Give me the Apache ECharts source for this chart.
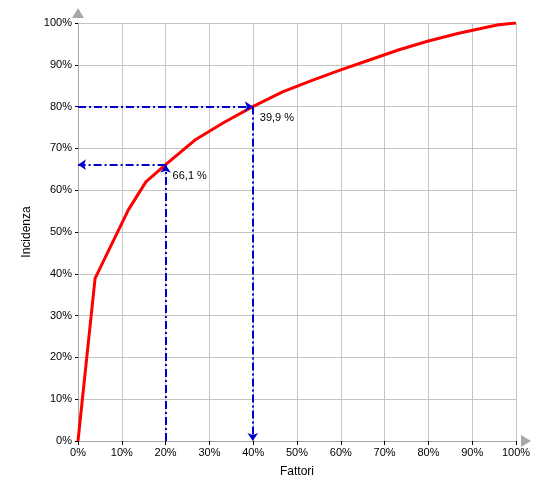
<!DOCTYPE html>
<html>
<head>
<meta charset="utf-8">
<script src="https://cdn.jsdelivr.net/npm/echarts@6/dist/echarts.min.js"></script>
<style>html,body{margin:0;padding:0;background:#fff}#c{width:550px;height:500px}</style>
</head>
<body>
<div id="c"></div>
<script>
// Fattori (%) vs Incidenza (%)
var factorsPct = [0, 3.9, 11.5, 15.5, 20, 26.7, 33.3, 39.9, 46.7, 53.3, 60, 66.7, 73.3, 80, 86.7, 93.3, 96, 100];
var incidencePct = [0, 38.9, 55.3, 62, 66.1, 72, 76.2, 80, 83.5, 86.2, 88.8, 91.2, 93.6, 95.7, 97.5, 99.0, 99.6, 100];
var xTicks = [0, 10, 20, 30, 40, 50, 60, 70, 80, 90, 100];
var yTicks = [0, 10, 20, 30, 40, 50, 60, 70, 80, 90, 100];
// Reference lines: [factor, incidence, label]
var refA = [20, 66.1, '66,1 %'];   // from x axis up, then left to y axis
var refB = [39.9, 80, '39,9 %'];   // from y axis right, then down to x axis

var blue = '#0000cc';
var dashStyle = { color: blue, width: 2, type: [8, 3, 2, 3] };

var chart = echarts.init(document.getElementById('c'), null, { renderer: 'canvas' });
var font = 'Liberation Sans, Arial, sans-serif';
chart.setOption({
  animation: false,
  grid: { left: 78, right: 34, top: 23, bottom: 59 },
  xAxis: {
    type: 'value', min: xTicks[0], max: xTicks[xTicks.length - 1], interval: 10,
    name: 'Fattori', nameLocation: 'middle', nameGap: 25,
    nameTextStyle: { color: '#000', fontSize: 12, fontFamily: font },
    axisLine: { show: true, lineStyle: { color: '#a8a8a8', width: 1 }, symbol: ['none', 'triangle'], symbolSize: [12, 10], symbolOffset: [0, 10] },
    axisTick: { show: true, length: 4, lineStyle: { color: '#000' } },
    axisLabel: { formatter: '{value}%', color: '#000', fontSize: 11, fontFamily: font, margin: 6 },
    splitLine: { show: true, lineStyle: { color: '#c4c4c4', width: 1 } }
  },
  yAxis: {
    type: 'value', min: yTicks[0], max: yTicks[yTicks.length - 1], interval: 10,
    name: 'Incidenza', nameLocation: 'middle', nameGap: 45,
    nameTextStyle: { color: '#000', fontSize: 12, fontFamily: font },
    axisLine: { show: true, lineStyle: { color: '#a8a8a8', width: 1 }, symbol: ['none', 'triangle'], symbolSize: [12, 10], symbolOffset: [0, 10] },
    axisTick: { show: true, length: 3, lineStyle: { color: '#000' } },
    axisLabel: { formatter: '{value}%', color: '#000', fontSize: 11, fontFamily: font, margin: 6 },
    splitLine: { show: true, lineStyle: { color: '#c4c4c4', width: 1 } }
  },
  series: [
    {
      type: 'line',
      data: factorsPct.map(function (x, i) { return [x, incidencePct[i]]; }),
      showSymbol: false,
      symbol: 'none',
      lineStyle: { color: '#ff0000', width: 3 },
      z: 3,
      markLine: {
        silent: true,
        symbol: ['none', 'arrow'],
        symbolSize: 8,
        label: { show: false },
        lineStyle: dashStyle,
        data: [
          [{ coord: [refA[0], 0] }, { coord: [refA[0], refA[1]] }],
          [{ coord: [refA[0], refA[1]] }, { coord: [0, refA[1]] }],
          [{ coord: [0, refB[1]] }, { coord: [refB[0], refB[1]] }],
          [{ coord: [refB[0], refB[1]] }, { coord: [refB[0], 0] }]
        ]
      }
    },
    {
      type: 'scatter',
      symbolSize: 0,
      silent: true,
      itemStyle: { opacity: 1 },
      data: [[refA[0], refA[1], refA[2]], [refB[0], refB[1], refB[2]]],
      label: {
        show: true, position: 'right', distance: 0, offset: [7, 11],
        formatter: function (p) { return p.data[2]; },
        color: '#000', fontSize: 11, fontFamily: font
      },
      z: 5
    }
  ]
});
</script>
</body>
</html>
